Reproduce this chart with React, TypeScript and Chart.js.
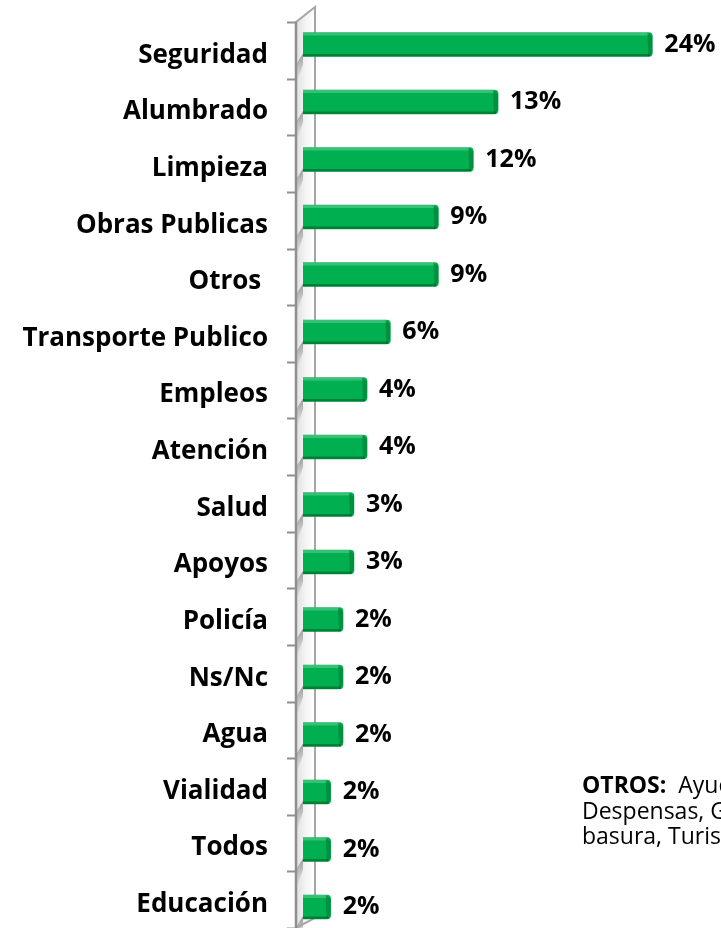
import { useEffect, useRef } from "react";
import { Chart, registerables } from "chart.js";

Chart.register(...registerables);

const categories = [
  "Seguridad",
  "Alumbrado",
  "Limpieza",
  "Obras Publicas",
  "Otros ",
  "Transporte Publico",
  "Empleos",
  "Atención",
  "Salud",
  "Apoyos",
  "Policía",
  "Ns/Nc",
  "Agua",
  "Vialidad",
  "Todos",
  "Educación",
];
const barValues = [24.0, 13.4, 11.7, 9.3, 9.3, 6.0, 4.4, 4.4, 3.5, 3.5, 2.75, 2.75, 2.75, 1.9, 1.9, 1.9];
const valueLabels = ["24%", "13%", "12%", "9%", "9%", "6%", "4%", "4%", "3%", "3%", "2%", "2%", "2%", "2%", "2%", "2%"];
const noteTitle = "OTROS:";
const noteLines = ["\u00a0 Ayuda, Becas,", "Despensas, Gas,", "basura, Turismo"];

const FONT = "'Open Sans', 'Noto Sans', sans-serif";

const decorPlugin = {
  id: "decor",
  beforeDatasetsDraw(chart: any) {
    const { ctx, chartArea } = chart;
    const L = chartArea.left;
    const top = chartArea.top;
    const bottom = chartArea.bottom;
    const wl = L - 7;
    const wr = L + 12;
    ctx.save();
    // wall fill
    const g = ctx.createLinearGradient(wl, 0, wr, 0);
    g.addColorStop(0, "#e0e0e0");
    g.addColorStop(0.5, "#f4f4f4");
    g.addColorStop(1, "#ffffff");
    ctx.fillStyle = g;
    ctx.beginPath();
    ctx.moveTo(wl, top);
    ctx.lineTo(wr, top - 15);
    ctx.lineTo(wr, bottom - 10);
    ctx.lineTo(wl, bottom);
    ctx.closePath();
    ctx.fill();
    // shadows of bars on wall
    const meta = chart.getDatasetMeta(0);
    meta.data.forEach((el: any) => {
      const p = el.getProps(["y", "height"], true);
      const bb = p.y + p.height / 2;
      const sg = ctx.createLinearGradient(0, bb - 2, 0, bb + 28);
      sg.addColorStop(0, "rgba(100,100,100,0.6)");
      sg.addColorStop(1, "rgba(160,160,160,0)");
      ctx.fillStyle = sg;
      ctx.beginPath();
      ctx.moveTo(L, bb - 3);
      ctx.lineTo(L, bb + 8);
      ctx.lineTo(wl, bb + 28);
      ctx.lineTo(wl, bb + 8);
      ctx.closePath();
      ctx.fill();
    });
    // wall lines
    ctx.strokeStyle = "#a6a6a6";
    ctx.lineWidth = 2;
    ctx.beginPath();
    ctx.moveTo(wl, bottom);
    ctx.lineTo(wl, top);
    ctx.lineTo(wr, top - 15);
    ctx.lineTo(wr, bottom - 10);
    ctx.lineTo(wl, bottom);
    ctx.stroke();
    ctx.strokeStyle = "#8f8f8f";
    ctx.lineWidth = 2.5;
    ctx.beginPath();
    ctx.moveTo(wl, top);
    ctx.lineTo(wl, bottom);
    ctx.stroke();
    // ticks at category boundaries
    const ys = chart.scales.y;
    ctx.strokeStyle = "#8f8f8f";
    ctx.lineWidth = 2;
    for (let i = 0; i <= categories.length; i++) {
      const y = Math.round(ys.getPixelForValue(i - 0.5)) + 0.5;
      ctx.beginPath();
      ctx.moveTo(wl - 9, y);
      ctx.lineTo(wl, y);
      ctx.stroke();
    }
    ctx.restore();
  },
  afterDatasetsDraw(chart: any) {
    const { ctx } = chart;
    const meta = chart.getDatasetMeta(0);
    ctx.save();
    meta.data.forEach((el: any, i: number) => {
      const p = el.getProps(["x", "y", "base", "height"], true);
      const t = p.y - p.height / 2;
      const b = p.y + p.height / 2;
      const w = p.x - p.base;
      // top highlight
      ctx.fillStyle = "rgba(255,255,255,0.22)";
      ctx.fillRect(p.base, t, Math.max(0, w - 4), 3);
      // bottom shade
      ctx.fillStyle = "rgba(0,70,25,0.45)";
      ctx.fillRect(p.base, b - 2.5, w - 2, 2.5);
      // end bevel
      ctx.fillStyle = "rgba(0,60,20,0.28)";
      ctx.beginPath();
      ctx.moveTo(p.x - 5, t);
      ctx.lineTo(p.x, t + 4);
      ctx.lineTo(p.x, b - 4);
      ctx.lineTo(p.x - 4, b);
      ctx.closePath();
      ctx.fill();
      // value label
      ctx.fillStyle = "#000";
      ctx.font = `bold 25px ${FONT}`;
      ctx.textAlign = "left";
      ctx.textBaseline = "middle";
      ctx.fillText(valueLabels[i], p.x + 12, p.y);
    });
    ctx.restore();
  },
};

export default function App() {
  const ref = useRef<HTMLCanvasElement | null>(null);
  useEffect(() => {
    document.body.style.margin = "0";
    const canvas = ref.current;
    if (!canvas) return;
    const chart = new Chart(canvas, {
      type: "bar",
      data: {
        labels: categories,
        datasets: [
          {
            data: barValues.map((v, i) => ({ x: v, y: i })),
            xAxisID: "x",
            yAxisID: "y2",
            backgroundColor: "#00b050",
            borderWidth: 0,
            borderRadius: { topLeft: 0, bottomLeft: 0, topRight: 4, bottomRight: 4 },
            borderSkipped: false,
            barThickness: 24,
          } as any,
        ],
      },
      options: {
        indexAxis: "y",
        responsive: false,
        animation: false,
        events: [],
        layout: { padding: { top: 22, bottom: 0, left: 0, right: 25 } },
        plugins: {
          legend: { display: false },
          tooltip: { enabled: false },
        },
        scales: {
          x: {
            type: "linear",
            min: 0,
            max: 27,
            display: false,
          },
          y: {
            type: "category",
            labels: categories,
            offset: true,
            position: "left",
            grid: { display: false, drawTicks: false },
            border: { display: false },
            ticks: {
              color: "#000",
              padding: 35,
              labelOffset: 5,
              font: { family: FONT, size: 26, weight: "bold" },
            },
            afterFit(scale: any) {
              scale.width = 303;
              scale.paddingTop = 0;
              scale.paddingBottom = 0;
            },
          },
          y2: {
            type: "linear",
            axis: "y",
            position: "left",
            display: false,
            offset: false,
            reverse: true,
            min: -0.391,
            max: 15.365,
          } as any,
        },
      } as any,
      plugins: [decorPlugin],
    });
    return () => chart.destroy();
  }, []);

  return (
    <div
      style={{
        position: "fixed",
        left: 0,
        top: 0,
        width: 721,
        height: 928,
        overflow: "hidden",
        background: "#fff",
      }}
    >
      <canvas ref={ref} width={721} height={928} style={{ display: "block", width: 721, height: 928 }} />
      <div
        style={{
          position: "absolute",
          left: 582,
          top: 772,
          fontFamily: FONT,
          fontSize: 23,
          lineHeight: "25.5px",
          color: "#000",
          whiteSpace: "nowrap",
        }}
      >
        <div>
          <b>{noteTitle}</b>
          {noteLines[0]}
        </div>
        <div>{noteLines[1]}</div>
        <div>{noteLines[2]}</div>
      </div>
    </div>
  );
}
